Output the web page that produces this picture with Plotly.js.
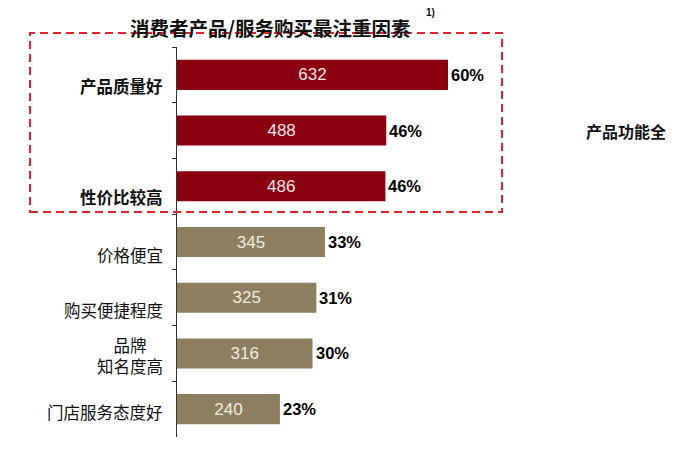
<!DOCTYPE html>
<html>
<head>
<meta charset="utf-8">
<script src="https://cdn.plot.ly/plotly-3.0.1.min.js"></script>
<style>
  html, body { margin: 0; padding: 0; background: #fff; }
  #chart { width: 692px; height: 449px; }
</style>
</head>
<body>
<div id="chart"></div>
<script>
const factors = ['产品质量好', '产品功能全', '性价比较高', '价格便宜', '购买便捷程度', '品牌<br>知名度高', '门店服务态度好'];
const counts = [632, 488, 486, 345, 325, 316, 240];
const shares = [60, 46, 46, 33, 31, 30, 23];
const topCount = 3;

const cjk = '"Noto Sans CJK SC", sans-serif';
const arial = 'Arial, "Liberation Sans", sans-serif';
const darkRed = '#8a0011';
const tan = '#8c7e5e';

const barColors = counts.map((v, i) => (i < topCount ? darkRed : tan));
const textColors = counts.map((v, i) => (i < topCount ? '#f3e3e3' : '#f1ece0'));

// labels sit a bit below the bar centre, like the original
const labelShift = [-11, 0, -11, -13, -12, -2, -3];

const annotations = [];

factors.forEach((f, i) => {
  // the 2nd label is drawn off to the right in the original
  if (i === 1) {
    annotations.push({
      xref: 'paper', yref: 'y', x: 0.814, y: f, xanchor: 'left',
      text: '<b>' + f + '</b>', showarrow: false,
      font: {family: cjk, size: 16, color: '#111'},
    });
    return;
  }
  annotations.push({
    xref: 'paper', yref: 'y', x: 0, y: f, xanchor: 'right', xshift: -12,
    yshift: labelShift[i], align: 'center',
    text: i < topCount ? '<b>' + f + '</b>' : f, showarrow: false,
    font: {family: cjk, size: 16.5, color: '#111'},
  });
});

factors.forEach((f, i) => {
  annotations.push({
    xref: 'x', yref: 'y', x: counts[i], y: f, xanchor: 'left', xshift: 1,
    text: '<b>' + shares[i] + '%</b>', showarrow: false,
    font: {family: arial, size: 16.5, color: '#000'},
  });
});

annotations.push({
  xref: 'paper', yref: 'paper', x: 0.186, y: 1.051, xanchor: 'center', yanchor: 'middle',
  text: '<b>消费者产品/服务购买最注重因素</b>', showarrow: false,
  font: {family: cjk, size: 19.5, color: '#111'},
});
annotations.push({
  xref: 'paper', yref: 'paper', x: 0.494, y: 1.089, xanchor: 'left', yanchor: 'middle',
  text: '<b>1)</b>', showarrow: false,
  font: {family: arial, size: 10, color: '#111'},
});

Plotly.newPlot('chart', [{
  type: 'bar',
  orientation: 'h',
  x: counts,
  y: factors,
  width: 0.54,
  marker: {color: barColors},
  text: counts.map(String),
  textposition: 'inside',
  insidetextanchor: 'middle',
  textfont: {family: arial, size: 17, color: textColors},
  hoverinfo: 'none',
}], {
  width: 692,
  height: 449,
  margin: {l: 177, r: 15, t: 47, b: 12},
  paper_bgcolor: '#fff',
  plot_bgcolor: '#fff',
  showlegend: false,
  xaxis: {
    range: [0, 1166],
    visible: false,
    fixedrange: true,
  },
  yaxis: {
    type: 'category',
    autorange: 'reversed',
    showticklabels: false,
    showgrid: false,
    zeroline: false,
    showline: true,
    linecolor: '#333',
    linewidth: 1,
    ticks: 'outside',
    tickson: 'boundaries',
    ticklen: 4,
    tickcolor: '#333',
    fixedrange: true,
  },
  shapes: [{
    type: 'rect',
    xref: 'paper', yref: 'paper',
    x0: -0.294, x1: 0.65, y0: 0.577, y1: 1.036,
    line: {color: '#e3232c', width: 2, dash: '8px,5px'},
  }],
  annotations: annotations,
}, {displayModeBar: false, staticPlot: true});
</script>
</body>
</html>
